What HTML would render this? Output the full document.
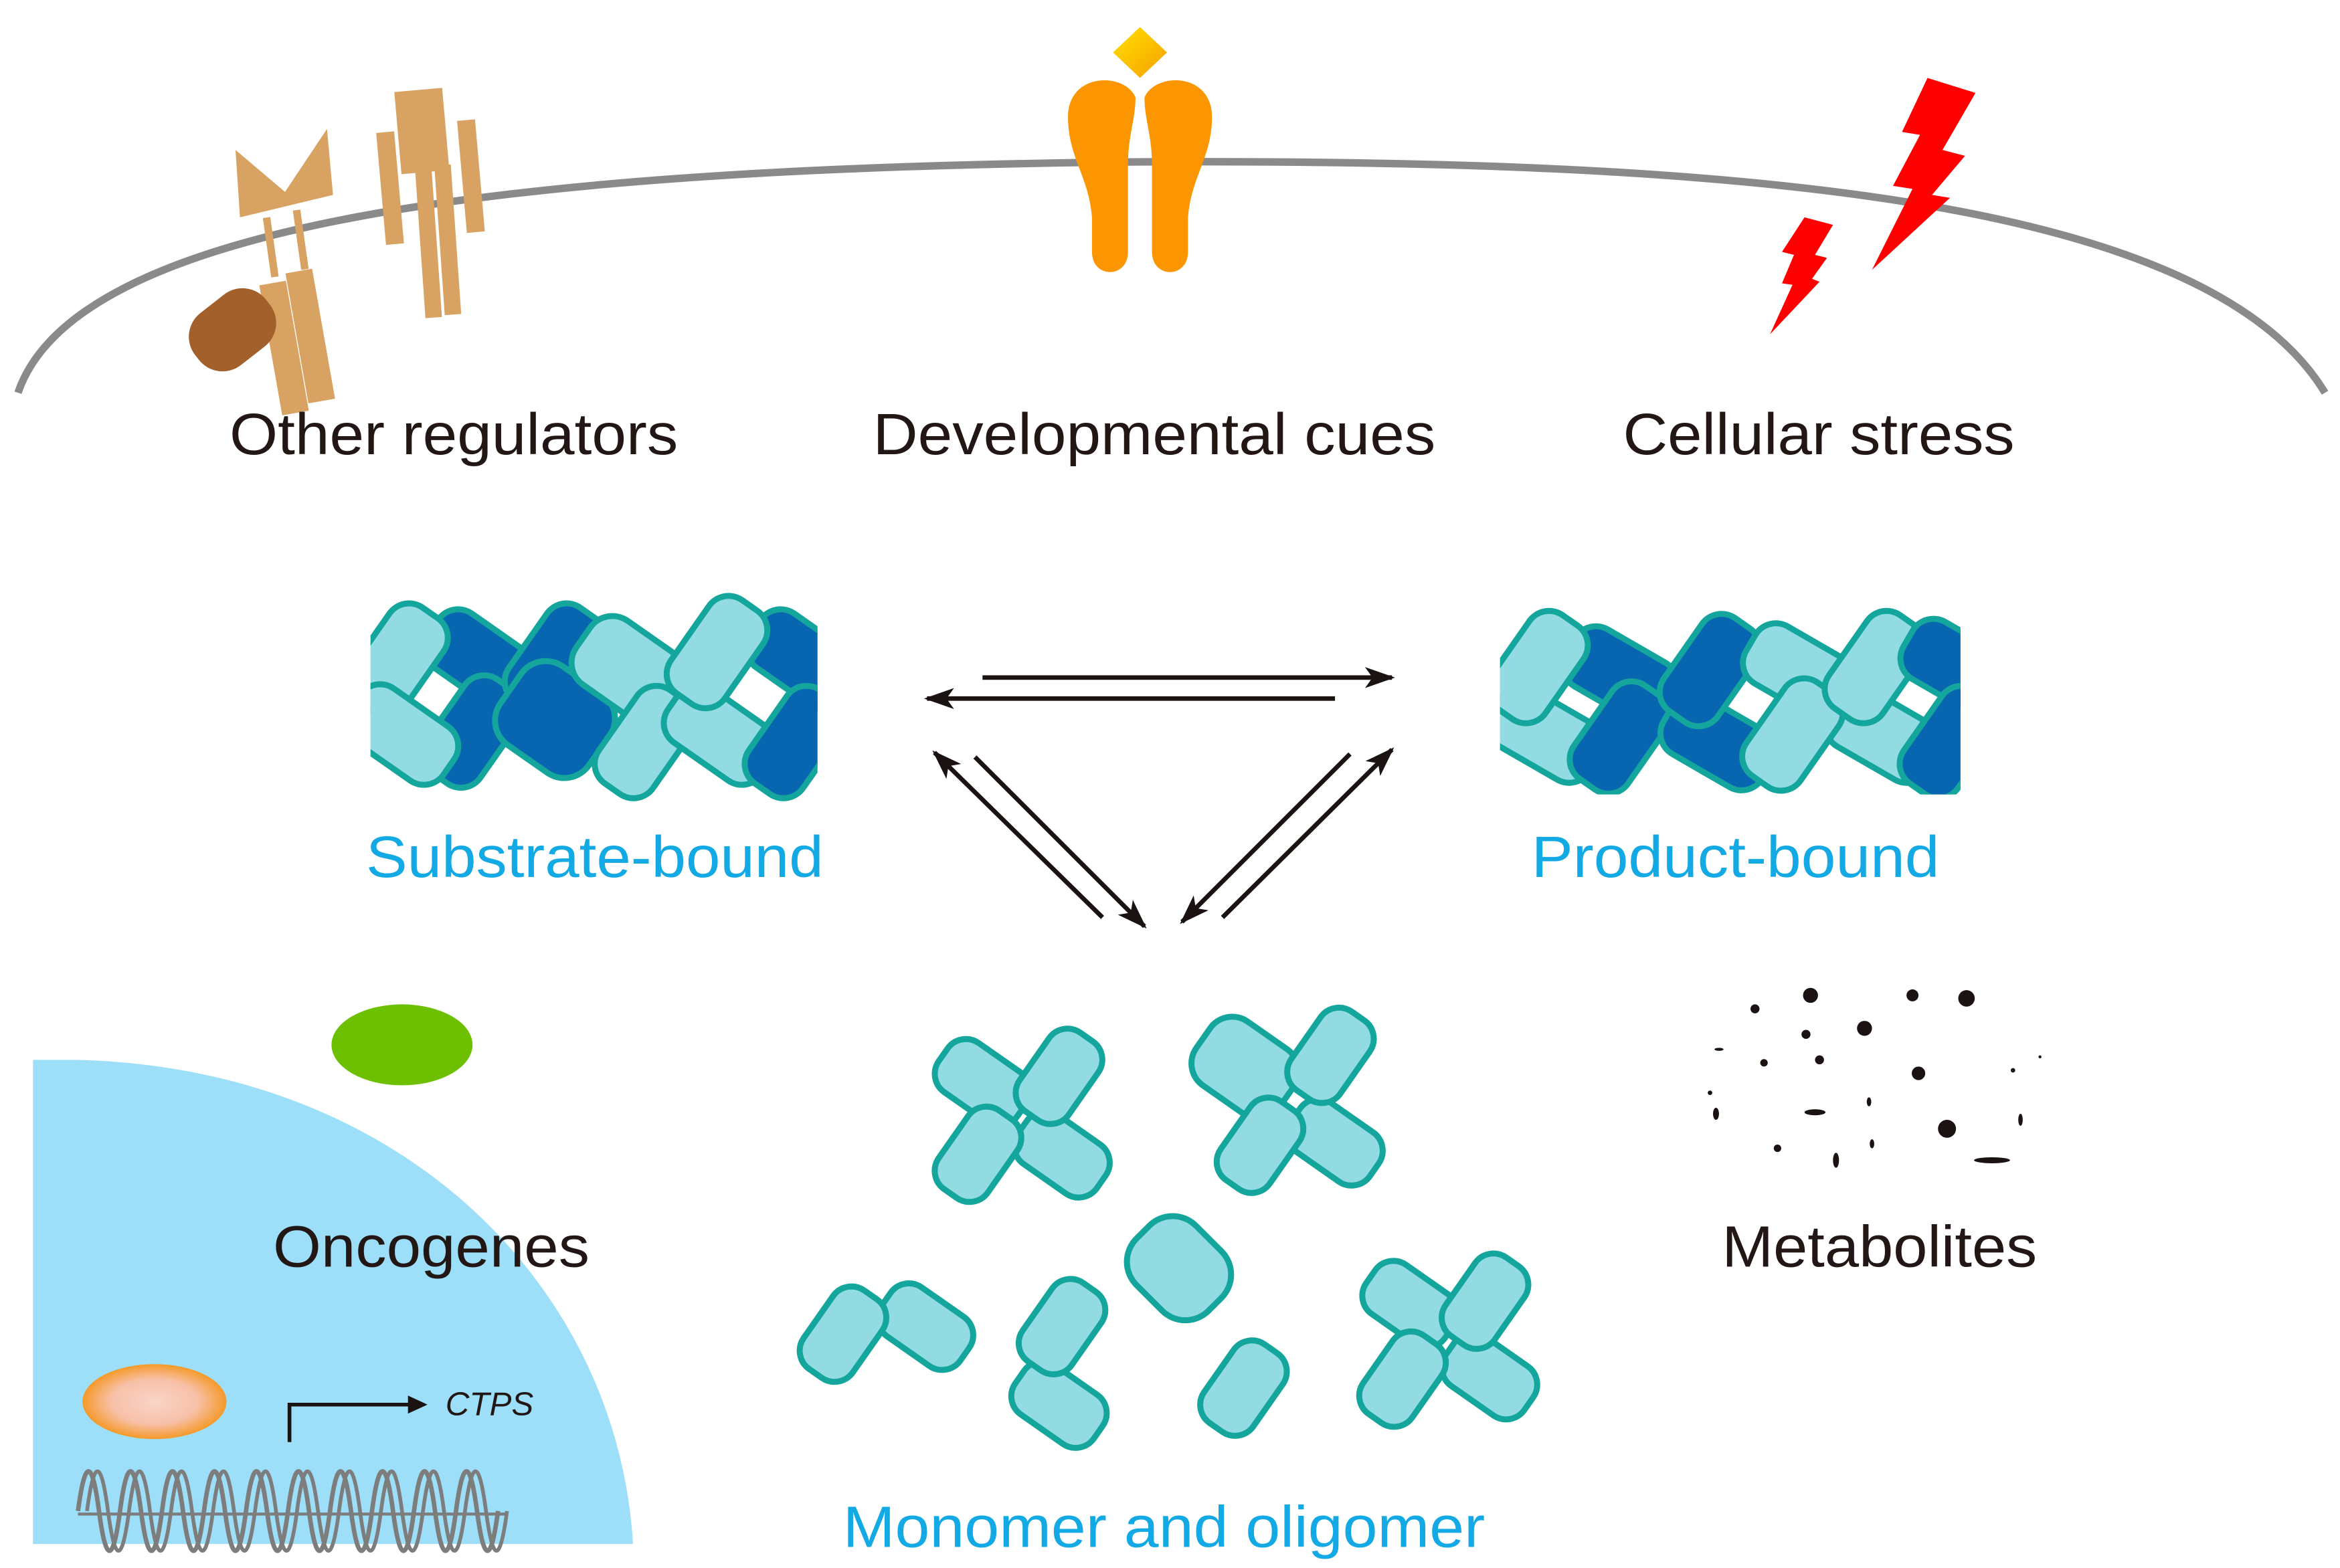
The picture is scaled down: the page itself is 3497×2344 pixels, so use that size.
<!DOCTYPE html>
<html><head><meta charset="utf-8"><style>
html,body{margin:0;padding:0;background:#fff;}
svg{display:block;}
text{font-family:"Liberation Sans",Arial,sans-serif;}
</style></head><body>
<svg width="3497" height="2344" viewBox="0 0 1560 1046" preserveAspectRatio="none" xmlns="http://www.w3.org/2000/svg">
<defs>
<clipPath id="c1"><rect x="247" y="395" width="298" height="140"/></clipPath>
<clipPath id="c2"><rect x="1000" y="400" width="307" height="130"/></clipPath>
<radialGradient id="og" cx="50%" cy="50%" r="50%"><stop offset="0" stop-color="#f9d5c8"/><stop offset="0.6" stop-color="#f7c0a8"/><stop offset="1" stop-color="#f59a2a"/></radialGradient>
<linearGradient id="yg" x1="0" y1="0" x2="1" y2="1"><stop offset="0" stop-color="#ffe000"/><stop offset="1" stop-color="#f7a000"/></linearGradient>
<marker id="ah" viewBox="0 0 20 14" refX="18" refY="7" markerWidth="20" markerHeight="14" markerUnits="userSpaceOnUse" orient="auto"><path d="M0,0 L20,7 L0,14 L5,7 Z" fill="#1a1311"/></marker>
</defs>

<path d="M12,262 C50,150 330,112 760,108 C1150,106 1470,130 1550,262" fill="none" stroke="#8a8a8a" stroke-width="5"/>

<g fill="#d8a262">
<polygon points="157,100 190,128 218,86 222,130 160,145"/>
<rect x="178" y="145" width="5" height="40" transform="rotate(-8 180 165)"/>
<rect x="198" y="140" width="5" height="40" transform="rotate(-8 200 160)"/>
<rect x="180" y="188" width="18" height="88" transform="rotate(-10 190 230)"/>
<rect x="198" y="180" width="18" height="88" transform="rotate(-10 208 225)"/>
<rect x="265" y="60" width="32" height="55" transform="rotate(-5 280 85)"/>
<rect x="254" y="88" width="12" height="75" transform="rotate(-5 260 125)"/>
<rect x="308" y="80" width="12" height="75" transform="rotate(-5 314 118)"/>
<rect x="280" y="112" width="11" height="100" transform="rotate(-4 285 160)"/>
<rect x="293" y="110" width="11" height="100" transform="rotate(-4 298 160)"/>
</g>
<rect x="-22" y="-30" width="44" height="60" rx="20" fill="#a3602b" transform="translate(155,220) rotate(52)"/>

<g fill="#fb9600">
<path d="M757,65 C750,48 712,48 712,78 C712,105 726,118 728,145 L728,168 C728,186 752,186 752,168 L752,110 C752,90 757,80 757,65 Z"/>
<path d="M763,65 C770,48 808,48 808,78 C808,105 794,118 792,145 L792,168 C792,186 768,186 768,168 L768,110 C768,90 763,80 763,65 Z"/>
</g>
<polygon points="760,18 778,35 760,52 742,35" fill="url(#yg)"/>

<g fill="#ff0000">
<polygon points="1285,52 1317,62 1295,100 1310,104 1288,130 1300,132 1248,180 1275,126 1262,124 1280,90 1268,88"/>
<polygon points="1203,145 1222,150 1210,170 1218,172 1208,186 1213,188 1180,223 1195,190 1188,189 1196,170 1188,168"/>
</g>

<text x="153" y="303" font-size="39" fill="#221714" textLength="299" lengthAdjust="spacingAndGlyphs">Other regulators</text>
<text x="582" y="303" font-size="39" fill="#221714" textLength="375" lengthAdjust="spacingAndGlyphs">Developmental cues</text>
<text x="1082" y="303" font-size="39" fill="#221714" textLength="261" lengthAdjust="spacingAndGlyphs">Cellular stress</text>

<g clip-path="url(#c1)" stroke="#14a59c" stroke-width="4">
<rect x="-38" y="-22" width="76" height="44" rx="16" fill="#0866b0" transform="translate(320,440) rotate(35)"/>
<rect x="-38" y="-22" width="76" height="44" rx="16" fill="#0866b0" transform="translate(315,488) rotate(-55)"/>
<rect x="-38" y="-22" width="76" height="44" rx="16" fill="#92dbe2" transform="translate(265,440) rotate(-55)"/>
<rect x="-38" y="-22" width="76" height="44" rx="16" fill="#92dbe2" transform="translate(268,490) rotate(35)"/>
<rect x="-38" y="-22" width="76" height="44" rx="16" fill="#0866b0" transform="translate(370,440) rotate(-55)"/>
<rect x="-36" y="-32" width="72" height="64" rx="20" fill="#0866b0" transform="translate(370,480) rotate(35)"/>
<rect x="-38" y="-26" width="76" height="52" rx="18" fill="#92dbe2" transform="translate(420,447) rotate(35)"/>
<rect x="-38" y="-22" width="76" height="44" rx="16" fill="#92dbe2" transform="translate(430,495) rotate(-55)"/>
<rect x="-38" y="-22" width="76" height="44" rx="16" fill="#0866b0" transform="translate(535,440) rotate(35)"/>
<rect x="-38" y="-22" width="76" height="44" rx="16" fill="#92dbe2" transform="translate(480,490) rotate(35)"/>
<rect x="-38" y="-22" width="76" height="44" rx="16" fill="#92dbe2" transform="translate(478,435) rotate(-55)"/>
<rect x="-38" y="-22" width="76" height="44" rx="16" fill="#0866b0" transform="translate(530,495) rotate(-55)"/>
</g>
<text x="244" y="585" font-size="39" fill="#12a9e4" textLength="305" lengthAdjust="spacingAndGlyphs">Substrate-bound</text>

<g clip-path="url(#c2)" stroke="#14a59c" stroke-width="4">
<rect x="-38" y="-22" width="76" height="44" rx="16" fill="#92dbe2" transform="translate(1030,490) rotate(30)"/>
<rect x="-38" y="-22" width="76" height="44" rx="16" fill="#0866b0" transform="translate(1080,450) rotate(30)"/>
<rect x="-38" y="-22" width="76" height="44" rx="16" fill="#92dbe2" transform="translate(1025,445) rotate(-55)"/>
<rect x="-38" y="-22" width="76" height="44" rx="16" fill="#0866b0" transform="translate(1080,492) rotate(-55)"/>
<rect x="-38" y="-22" width="76" height="44" rx="16" fill="#0866b0" transform="translate(1145,495) rotate(30)"/>
<rect x="-38" y="-22" width="76" height="44" rx="16" fill="#0866b0" transform="translate(1140,447) rotate(-55)"/>
<rect x="-38" y="-22" width="76" height="44" rx="16" fill="#92dbe2" transform="translate(1200,448) rotate(30)"/>
<rect x="-38" y="-22" width="76" height="44" rx="16" fill="#92dbe2" transform="translate(1255,490) rotate(30)"/>
<rect x="-38" y="-22" width="76" height="44" rx="16" fill="#92dbe2" transform="translate(1195,490) rotate(-55)"/>
<rect x="-38" y="-22" width="76" height="44" rx="16" fill="#92dbe2" transform="translate(1250,445) rotate(-55)"/>
<rect x="-38" y="-22" width="76" height="44" rx="16" fill="#0866b0" transform="translate(1305,445) rotate(30)"/>
<rect x="-38" y="-22" width="76" height="44" rx="16" fill="#0866b0" transform="translate(1300,495) rotate(-55)"/>
</g>
<text x="1021" y="585" font-size="39" fill="#12a9e4" textLength="272" lengthAdjust="spacingAndGlyphs">Product-bound</text>

<g stroke="#1a1311" stroke-width="3" fill="none">
<line x1="655" y1="452" x2="928" y2="452" marker-end="url(#ah)"/>
<line x1="890" y1="466" x2="618" y2="466" marker-end="url(#ah)"/>
<line x1="735" y1="612" x2="623" y2="502" marker-end="url(#ah)"/>
<line x1="650" y1="505" x2="763" y2="618" marker-end="url(#ah)"/>
<line x1="900" y1="503" x2="788" y2="615" marker-end="url(#ah)"/>
<line x1="815" y1="612" x2="928" y2="500" marker-end="url(#ah)"/>
</g>

<path d="M22,707 L50,707 C270,712 412,860 422,1030 L22,1030 Z" fill="#9ddff8"/>
<ellipse cx="268" cy="697" rx="47" ry="27" fill="#6cc000"/>
<text x="182" y="845" font-size="39" fill="#221714" textLength="211" lengthAdjust="spacingAndGlyphs">Oncogenes</text>
<ellipse cx="103" cy="935" rx="48" ry="25" fill="url(#og)"/>
<path d="M193,962 L193,937 L275,937" fill="none" stroke="#1a1311" stroke-width="2.5"/>
<polygon points="272,931 285,937 272,943" fill="#1a1311"/>
<text x="297" y="944" font-size="22" font-style="italic" fill="#221714">CTPS</text>
<g fill="none" stroke="#7d7d7d" stroke-width="3">
<path d="M52,1008 Q59,955 66,1008 T80,1008 T94,1008 T108,1008 T122,1008 T136,1008 T150,1008 T164,1008 T178,1008 T192,1008 T206,1008 T220,1008 T234,1008 T248,1008 T262,1008 T276,1008 T290,1008 T304,1008 T318,1008 T332,1008"/>
<path d="M58,1008 Q65,955 72,1008 T86,1008 T100,1008 T114,1008 T128,1008 T142,1008 T156,1008 T170,1008 T184,1008 T198,1008 T212,1008 T226,1008 T240,1008 T254,1008 T268,1008 T282,1008 T296,1008 T310,1008 T324,1008 T338,1008" stroke-width="2.5"/>
<path d="M52,1010 H337" stroke-width="2"/>
</g>

<g stroke="#14a59c" stroke-width="4" fill="#92dbe2">
<rect x="-32" y="-20" width="64" height="40" rx="15" transform="translate(655,722) rotate(35)"/>
<rect x="-32" y="-20" width="64" height="40" rx="15" transform="translate(708,770) rotate(35)"/>
<rect x="-32" y="-20" width="64" height="40" rx="15" transform="translate(652,770) rotate(-55)"/>
<rect x="-32" y="-20" width="64" height="40" rx="15" transform="translate(706,718) rotate(-55)"/>
<rect x="-34" y="-26" width="68" height="52" rx="18" transform="translate(830,712) rotate(35)"/>
<rect x="-32" y="-20" width="64" height="40" rx="15" transform="translate(890,762) rotate(35)"/>
<rect x="-32" y="-20" width="64" height="40" rx="15" transform="translate(840,764) rotate(-55)"/>
<rect x="-32" y="-20" width="64" height="40" rx="15" transform="translate(887,704) rotate(-55)"/>
<rect x="-32" y="-20" width="64" height="40" rx="15" transform="translate(940,870) rotate(35)"/>
<rect x="-32" y="-20" width="64" height="40" rx="15" transform="translate(993,918) rotate(35)"/>
<rect x="-32" y="-20" width="64" height="40" rx="15" transform="translate(935,920) rotate(-55)"/>
<rect x="-32" y="-20" width="64" height="40" rx="15" transform="translate(990,868) rotate(-55)"/>
<rect x="-32" y="-20" width="64" height="40" rx="15" transform="translate(617,885) rotate(35)"/>
<rect x="-32" y="-20" width="64" height="40" rx="15" transform="translate(562,890) rotate(-55)"/>
<rect x="-32" y="-20" width="64" height="40" rx="15" transform="translate(706,937) rotate(35)"/>
<rect x="-32" y="-20" width="64" height="40" rx="15" transform="translate(708,885) rotate(-55)"/>
<rect x="-34" y="-28" width="68" height="56" rx="22" transform="translate(786,846) rotate(45)"/>
<rect x="-32" y="-20" width="64" height="40" rx="15" transform="translate(829,926) rotate(-55)"/>
</g>
<text x="562" y="1032" font-size="39" fill="#12a9e4" textLength="428" lengthAdjust="spacingAndGlyphs">Monomer and oligomer</text>

<g fill="#1a1311">
<circle cx="1207" cy="664" r="5"/><circle cx="1275" cy="664" r="4"/><circle cx="1311" cy="666" r="5.5"/>
<circle cx="1170" cy="673" r="3"/><circle cx="1243" cy="686" r="5"/><circle cx="1204" cy="690" r="3"/>
<circle cx="1176" cy="709" r="2.5"/><circle cx="1213" cy="707" r="3"/><circle cx="1279" cy="716" r="4.5"/>
<circle cx="1342" cy="714" r="1.5"/><circle cx="1140" cy="729" r="1.5"/><circle cx="1298" cy="753" r="6"/>
<circle cx="1185" cy="766" r="2.5"/><circle cx="1360" cy="705" r="1"/>
<ellipse cx="1144" cy="743" rx="2" ry="4"/><ellipse cx="1210" cy="742" rx="7" ry="2"/><ellipse cx="1246" cy="735" rx="1.5" ry="3"/>
<ellipse cx="1248" cy="763" rx="1.5" ry="3"/><ellipse cx="1224" cy="774" rx="2" ry="5"/><ellipse cx="1328" cy="774" rx="12" ry="2"/>
<ellipse cx="1347" cy="747" rx="1.5" ry="4"/><ellipse cx="1146" cy="700" rx="3" ry="1"/>
</g>
<text x="1148" y="845" font-size="39" fill="#221714" textLength="210" lengthAdjust="spacingAndGlyphs">Metabolites</text>
</svg>
</body></html>
